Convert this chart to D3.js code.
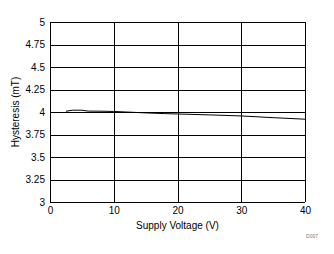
<!DOCTYPE html>
<html>
<head>
<meta charset="utf-8">
<script src="https://cdn.jsdelivr.net/npm/d3@7"></script>
<style>
  body { margin: 0; background: #fff; }
  svg { display: block; font-family: "Liberation Sans", Arial, sans-serif; }
</style>
</head>
<body>
<svg id="chart"></svg>
<script>
// Hysteresis vs supply voltage
const voltage = [2.5, 3.5, 5, 6, 8, 10, 12, 15, 18, 20, 25, 30, 35, 40];
const hysteresis = [4.008, 4.02, 4.02, 4.01, 4.009, 4.006, 4.0, 3.99, 3.982, 3.978, 3.968, 3.956, 3.937, 3.92];
const xTicks = [0, 10, 20, 30, 40];
const yTicks = [3, 3.25, 3.5, 3.75, 4, 4.25, 4.5, 4.75, 5];

const width = 334, height = 254;
const margin = { top: 22, right: 29, bottom: 52, left: 50 };
const w = width - margin.left - margin.right;
const h = height - margin.top - margin.bottom;

const svg = d3.select('#chart').attr('width', width).attr('height', height);
const g = svg.append('g').attr('transform', `translate(${margin.left},${margin.top})`);

const x = d3.scaleLinear().domain([0, 40]).range([0, w]);
const y = d3.scaleLinear().domain([3, 5]).range([h, 0]);

// grid
g.selectAll('.hgrid').data(yTicks).join('line')
  .attr('x1', 0).attr('x2', w)
  .attr('y1', d => Math.round(y(d)) + 0.5).attr('y2', d => Math.round(y(d)) + 0.5)
  .attr('stroke', '#000');
g.selectAll('.vgrid').data(xTicks).join('line')
  .attr('y1', 0).attr('y2', h)
  .attr('x1', d => Math.round(x(d)) + 0.5).attr('x2', d => Math.round(x(d)) + 0.5)
  .attr('stroke', '#000');

// axes labels
const xAxis = d3.axisBottom(x).tickValues(xTicks).tickSize(0).tickPadding(5);
g.append('g').attr('transform', `translate(0,${h})`).call(xAxis)
  .call(s => s.select('.domain').remove())
  .selectAll('text').attr('font-size', 10).attr('font-family', '"Liberation Sans", Arial, sans-serif').attr('fill', '#000');

const yAxis = d3.axisLeft(y).tickValues(yTicks).tickSize(0).tickPadding(5).tickFormat(d => String(d));
g.append('g').call(yAxis)
  .call(s => s.select('.domain').remove())
  .selectAll('text').attr('font-size', 10).attr('font-family', '"Liberation Sans", Arial, sans-serif').attr('fill', '#000');

// data line
const data = voltage.map((v, i) => [v, hysteresis[i]]);
g.append('path').datum(data)
  .attr('fill', 'none').attr('stroke', '#000').attr('stroke-width', 1)
  .attr('d', d3.line().x(d => x(d[0])).y(d => y(d[1])));

// titles
svg.append('text')
  .attr('x', margin.left + w / 2).attr('y', 229)
  .attr('text-anchor', 'middle').attr('font-size', 10)
  .text('Supply Voltage (V)');
svg.append('text')
  .attr('transform', `translate(19,${margin.top + h / 2}) rotate(-90)`)
  .attr('text-anchor', 'middle').attr('font-size', 10)
  .text('Hysteresis (mT)');
svg.append('text')
  .attr('x', 318).attr('y', 238)
  .attr('text-anchor', 'end').attr('font-size', 5).attr('fill', '#777')
  .text('D007');
</script>
</body>
</html>
